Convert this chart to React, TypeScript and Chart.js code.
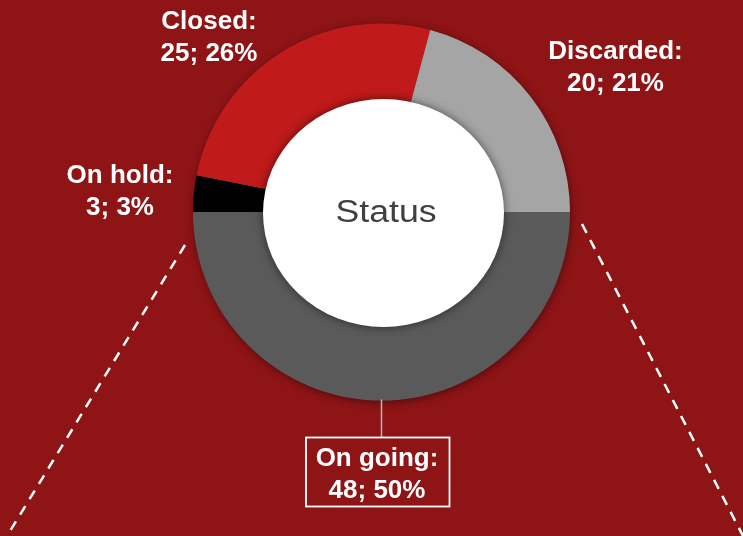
import React, { useEffect, useRef } from "react";
import { Chart, registerables } from "chart.js";

Chart.register(...registerables);

const categories = ["On going", "On hold", "Closed", "Discarded"];
const values = [48, 3, 25, 20];
const colors = ["#5A5A5A", "#000000", "#C01A1A", "#A5A5A5"];
const centerTitle = "Status";

const BG = "#8E1416";

// label anchor positions (layout only)
const labelPos: Record<string, { x: number; y: number; boxed?: boolean }> = {
  "On going": { x: 377, y: 466, boxed: true },
  "On hold": { x: 120, y: 183 },
  Closed: { x: 209, y: 29 },
  Discarded: { x: 615.5, y: 59 },
};

const decorPlugin = {
  id: "decor",
  beforeDraw(chart: any) {
    const { ctx, width, height } = chart;
    ctx.save();
    ctx.fillStyle = BG;
    ctx.fillRect(0, 0, width, height);
    ctx.restore();
  },
  beforeDatasetsDraw(chart: any) {
    const meta = chart.getDatasetMeta(0);
    const arc = meta.data[0];
    if (!arc) return;
    const { ctx } = chart;
    const { x, y, outerRadius } = arc.getProps(["x", "y", "outerRadius"], true);
    ctx.save();
    ctx.shadowColor = "rgba(0,0,0,0.45)";
    ctx.shadowBlur = 8;
    ctx.shadowOffsetX = 1;
    ctx.shadowOffsetY = 2;
    ctx.fillStyle = "#5A5A5A";
    ctx.beginPath();
    ctx.arc(x, y, outerRadius - 0.5, 0, Math.PI * 2);
    ctx.fill();
    ctx.restore();
  },
  afterDatasetsDraw(chart: any) {
    const meta = chart.getDatasetMeta(0);
    const arc0 = meta.data[0];
    if (!arc0) return;
    const { ctx } = chart;
    const { x, y, outerRadius } = arc0.getProps(["x", "y", "outerRadius"], true);

    // white center ellipse with soft shadow
    ctx.save();
    ctx.shadowColor = "rgba(0,0,0,0.55)";
    ctx.shadowBlur = 10;
    ctx.fillStyle = "#FFFFFF";
    ctx.beginPath();
    ctx.ellipse(x + 2, y + 1, 120.5, 114, 0, 0, Math.PI * 2);
    ctx.fill();
    ctx.restore();

    // center title
    ctx.save();
    ctx.fillStyle = "#404040";
    ctx.font = "31px 'Liberation Sans', Arial, sans-serif";
    ctx.textAlign = "center";
    ctx.textBaseline = "alphabetic";
    ctx.translate(x + 4.5, y + 10);
    ctx.scale(1.15, 1);
    ctx.fillText(centerTitle, 0, 0);
    ctx.restore();

    // dashed decorative lines
    ctx.save();
    ctx.strokeStyle = "#FFFFFF";
    ctx.lineWidth = 2.5;
    ctx.setLineDash([10, 8]);
    ctx.beginPath();
    ctx.moveTo(x - 196.5, y + 33);
    ctx.lineTo(7, chart.height);
    ctx.stroke();
    ctx.beginPath();
    ctx.moveTo(x + 200.5, y + 12);
    ctx.lineTo(chart.width, chart.height);
    ctx.stroke();
    ctx.restore();

    const total = values.reduce((a, b) => a + b, 0);
    ctx.save();
    ctx.fillStyle = "#FFFFFF";
    ctx.font = "bold 26px 'Liberation Sans', Arial, sans-serif";
    ctx.textAlign = "center";
    ctx.textBaseline = "alphabetic";
    categories.forEach((cat, i) => {
      const p = labelPos[cat];
      const line1 = cat + ":";
      const line2 = values[i] + "; " + Math.round((values[i] / total) * 100) + "%";
      if (p.boxed) {
        // leader line
        ctx.save();
        ctx.strokeStyle = "#B4B4B4";
        ctx.lineWidth = 1.5;
        ctx.beginPath();
        ctx.moveTo(x, y + outerRadius - 1);
        ctx.lineTo(x, 437.5);
        ctx.stroke();
        ctx.strokeStyle = "#FFFFFF";
        ctx.lineWidth = 1.8;
        ctx.strokeRect(306, 437.5, 143.5, 69);
        ctx.restore();
      }
      ctx.fillText(line1, p.x, p.y);
      ctx.fillText(line2, p.x, p.y + 32);
    });
    ctx.restore();
  },
};

export default function App() {
  const ref = useRef<HTMLCanvasElement | null>(null);
  useEffect(() => {
    if (!ref.current) return;
    const chart = new Chart(ref.current, {
      type: "doughnut",
      data: {
        labels: categories,
        datasets: [
          {
            data: values,
            backgroundColor: colors,
            borderWidth: 0,
            hoverOffset: 0,
            offset: 0,
          },
        ],
      },
      options: {
        animation: false,
        responsive: false,
        devicePixelRatio: 1,
        rotation: 90,
        radius: 188.5,
        cutout: 110,
        layout: { padding: { left: 20, right: 0, top: 23.5, bottom: 135.5 } },
        plugins: {
          legend: { display: false },
          tooltip: { enabled: false },
        },
        events: [],
      } as any,
      plugins: [decorPlugin],
    });
    return () => chart.destroy();
  }, []);
  return (
    <div style={{ position: "fixed", left: 0, top: 0, width: 743, height: 536, background: BG }}>
      <canvas ref={ref} width={743} height={536} style={{ display: "block" }} />
    </div>
  );
}
